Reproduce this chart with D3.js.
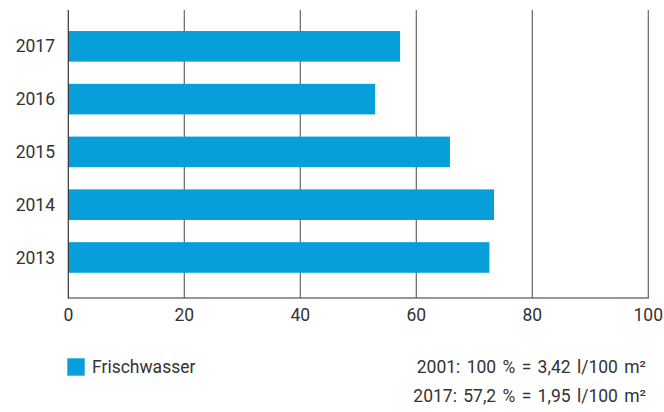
<!DOCTYPE html>
<html><head><meta charset="utf-8">
<script src="https://cdn.jsdelivr.net/npm/d3@7/dist/d3.min.js"></script>
<style>
body{margin:0;background:#fff;}
text{font-family:Roboto,"Liberation Sans",Arial,sans-serif;fill:#333;}
</style></head>
<body><svg id="c" width="664" height="412"></svg>
<script>
const years = ["2017","2016","2015","2014","2013"];
const values = [57.2, 52.9, 65.8, 73.4, 72.6];
const xTicks = [0,20,40,60,80,100];
const seriesName = "Frischwasser";
const notes = ["2001: 100 % = 3,42 l/100 m²", "2017: 57,2 % = 1,95 l/100 m²"];

const svg = d3.select("#c");
const x = d3.scaleLinear().domain([0,100]).range([68.3,648.3]);
const y = d3.scaleBand().domain(years).range([9.9,293.9]).paddingInner(0.42).paddingOuter(0.4);
const plotTop = 10, plotBottom = 298;
const color = "#069fda";
const fs = 17.5;

// gridlines
svg.append("g").selectAll("line").data(xTicks.slice(1)).join("line")
  .attr("x1",d=>x(d)).attr("x2",d=>x(d)).attr("y1",plotTop).attr("y2",plotBottom)
  .attr("stroke","#666").attr("stroke-width",1.2);

// bars
svg.append("g").selectAll("rect").data(years).join("rect")
  .attr("x",x(0)).attr("y",d=>y(d))
  .attr("width",(d,i)=>x(values[i])-x(0)).attr("height",y.bandwidth())
  .attr("fill",color);

// axes lines
svg.append("line").attr("x1",x(0)).attr("x2",x(0)).attr("y1",plotTop).attr("y2",plotBottom+0.5)
  .attr("stroke","#333").attr("stroke-width",1.2);
svg.append("line").attr("x1",x(0)).attr("x2",x(100)+0.5).attr("y1",plotBottom).attr("y2",plotBottom)
  .attr("stroke","#333").attr("stroke-width",1.2);

// y labels
svg.append("g").selectAll("text").data(years).join("text")
  .attr("x",55).attr("y",d=>y(d)+y.bandwidth()/2).attr("dy","0.35em")
  .attr("text-anchor","end").attr("font-size",fs).text(d=>d);

// x labels
svg.append("g").selectAll("text").data(xTicks).join("text")
  .attr("x",d=>x(d)).attr("y",321).attr("text-anchor","middle")
  .attr("font-size",fs).text(d=>d);

// legend
svg.append("rect").attr("x",67.3).attr("y",358.3).attr("width",17.4).attr("height",17.4).attr("fill",color);
svg.append("text").attr("x",92).attr("y",373).attr("font-size",fs).text(seriesName);

// notes
svg.append("g").selectAll("text").data(notes).join("text")
  .attr("x",646).attr("y",(d,i)=>372.7+i*29).attr("text-anchor","end")
  .attr("font-size",fs).attr("word-spacing",2).text(d=>d);
</script></body></html>
